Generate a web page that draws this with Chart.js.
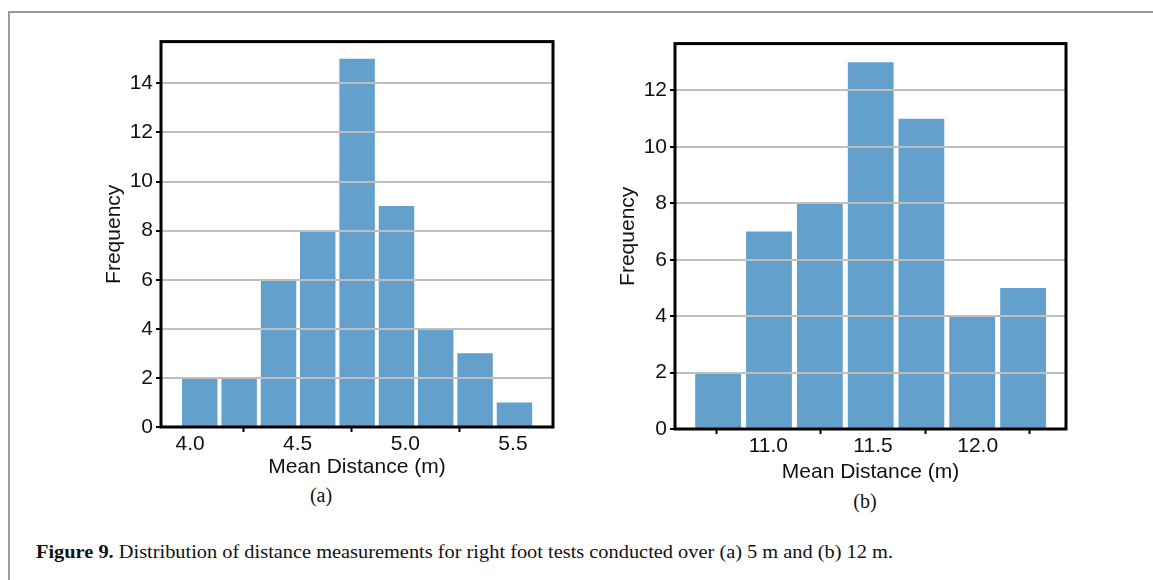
<!DOCTYPE html>
<html>
<head>
<meta charset="utf-8">
<script src="https://cdn.jsdelivr.net/npm/chart.js@4.4.1/dist/chart.umd.min.js"></script>
<style>
  body { margin: 0; background: #fff; width: 1153px; height: 580px; position: relative; overflow: hidden; }
  .frame { position: absolute; left: 8px; top: 11px; right: -5px; bottom: -5px; border-top: 2px solid #9a9a9a; border-left: 2px solid #9a9a9a; }
  .box { position: absolute; }
  .sub { position: absolute; font-family: "Liberation Serif", serif; font-size: 20px; color: #111; transform: translateX(-50%); }
  #caption { position: absolute; left: 36px; top: 542px; font-family: "Liberation Serif", serif; font-size: 18px; color: #111; white-space: nowrap; transform-origin: 0 0; }
</style>
</head>
<body>
<div class="frame"></div>
<div class="box" style="left:98px; top:26px; width:475px; height:458px;"><canvas id="chartA"></canvas></div>
<div class="box" style="left:612px; top:28px; width:474px; height:461px;"><canvas id="chartB"></canvas></div>
<div class="sub" style="left:321px; top:484px;">(a)</div>
<div class="sub" style="left:865px; top:490px;">(b)</div>
<div id="caption"><b>Figure 9.</b> Distribution of distance measurements for right foot tests conducted over (a) 5 m and (b) 12 m.</div>
<script>
// (a) 5 m tests: bin centres and counts
const binsA = [4.045, 4.228, 4.411, 4.593, 4.776, 4.959, 5.141, 5.324, 5.507];
const countsA = [2, 2, 6, 8, 15, 9, 4, 3, 1];

// (b) 12 m tests
const binsB = [10.760, 11.003, 11.246, 11.489, 11.731, 11.974, 12.217];
const countsB = [2, 7, 8, 13, 11, 4, 5];

const xTitle = "Mean Distance (m)";
const yTitle = "Frequency";
const barColor = "#63a0cb";

Chart.defaults.font.family = '"Liberation Sans", Arial, sans-serif';
Chart.defaults.color = "#111";

const framePlugin = {
    id: "frame",
    afterDraw(chart) {
        const a = chart.chartArea;
        const ctx = chart.ctx;
        ctx.save();
        ctx.strokeStyle = "#000";
        ctx.lineWidth = 3;
        ctx.strokeRect(a.left, a.top, a.right - a.left, a.bottom - a.top);
        ctx.restore();
    }
};

function makeHist(id, bins, counts, xMin, xMax, yMax, xHeight) {
    const ctx = document.getElementById(id).getContext("2d");
    return new Chart(ctx, {
        type: "bar",
        data: {
            datasets: [{
                data: bins.map((b, i) => ({ x: b, y: counts[i] })),
                backgroundColor: barColor,
                borderWidth: 0,
                barPercentage: 0.905,
                categoryPercentage: 1.0
            }]
        },
        options: {
            responsive: true,
            maintainAspectRatio: false,
            animation: false,
            layout: { padding: { top: 14, right: 20, left: 0, bottom: 0 } },
            plugins: { legend: { display: false }, tooltip: { enabled: false } },
            scales: {
                x: {
                    type: "linear",
                    min: xMin,
                    max: xMax,
                    offset: false,
                    border: { display: false },
                    grid: { drawOnChartArea: false, tickLength: 5, tickColor: "#000", tickWidth: 2 },
                    ticks: {
                        stepSize: 0.5,
                        includeBounds: false,
                        padding: 0,
                        font: { size: 21 },
                        callback: v => v.toFixed(1)
                    },
                    title: { display: true, text: xTitle, font: { size: 21 }, padding: { top: 0, bottom: 4 } },
                    afterFit: s => { s.height = xHeight; }
                },
                y: {
                    min: 0,
                    max: yMax,
                    border: { display: false },
                    grid: { z: 1, color: "#bfbfbf", lineWidth: 2, tickLength: 5, tickColor: "#000", tickWidth: 2 },
                    ticks: { stepSize: 2, includeBounds: false, padding: 3, font: { size: 21 } },
                    title: { display: true, text: yTitle, font: { size: 21 }, padding: { top: 4, bottom: 0 } },
                    afterFit: s => { s.width = 63; }
                }
            }
        },
        plugins: [framePlugin]
    });
}

makeHist("chartA", binsA, countsA, 3.865, 5.686, 15.7, 57);
makeHist("chartB", binsB, countsB, 10.554, 12.422, 13.66, 60);

// squeeze caption to the reference width
const cap = document.getElementById("caption");
const w = cap.getBoundingClientRect().width;
cap.style.transform = "scaleX(" + (857 / w) + ")";
</script>
</body>
</html>
